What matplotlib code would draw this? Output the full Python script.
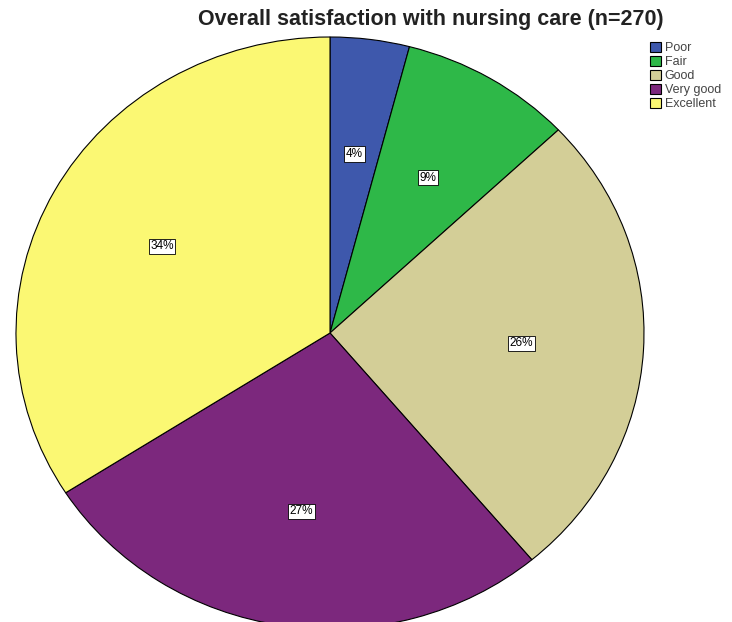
import matplotlib.pyplot as plt

plt.rcParams["font.family"] = ["Liberation Sans", "DejaVu Sans"]

# --- Data ---
categories = ["Poor", "Fair", "Good", "Very good", "Excellent"]
counts = [11, 24, 70, 73, 92]  # n = 270
colors = ["#3E58AC", "#2EB848", "#D3CE97", "#7C287D", "#FBF873"]

W, H = 732, 622
fig = plt.figure(figsize=(W / 100, H / 100), dpi=100)

# pie is slightly wider than tall in the reference, centre at (330, 333) px
cx, cy, rx, ry = 330, 333, 314, 296
ax = fig.add_axes([(cx - rx) / W, (H - cy - ry) / H, 2 * rx / W, 2 * ry / H])

wedges, texts, autotexts = ax.pie(
    counts,
    colors=colors,
    startangle=90,
    counterclock=False,
    autopct="%.0f%%",
    pctdistance=0.61,
    wedgeprops=dict(edgecolor="black", linewidth=0.8),
    textprops=dict(fontsize=8.5, color="black"),
)
for t in autotexts:
    t.set_bbox(dict(facecolor="white", edgecolor="black", linewidth=0.6, pad=1.2))

ax.set_aspect("auto")
ax.set_xlim(-1, 1)
ax.set_ylim(-1, 1)
ax.axis("off")

fig.text(431 / W, 1 - 19 / H, "Overall satisfaction with nursing care (n=270)",
         ha="center", va="center", fontsize=15.5, fontweight="bold", color="#222222")

leg = fig.legend(
    wedges, categories,
    loc="upper left",
    bbox_to_anchor=(641 / W, 1 - 33 / H),
    frameon=False,
    fontsize=9,
    handlelength=0.9,
    handleheight=0.9,
    handletextpad=0.3,
    labelspacing=0.12,
    borderpad=0.2,
)
for t in leg.get_texts():
    t.set_color("#444444")

fig.savefig("out.png", dpi=100)
